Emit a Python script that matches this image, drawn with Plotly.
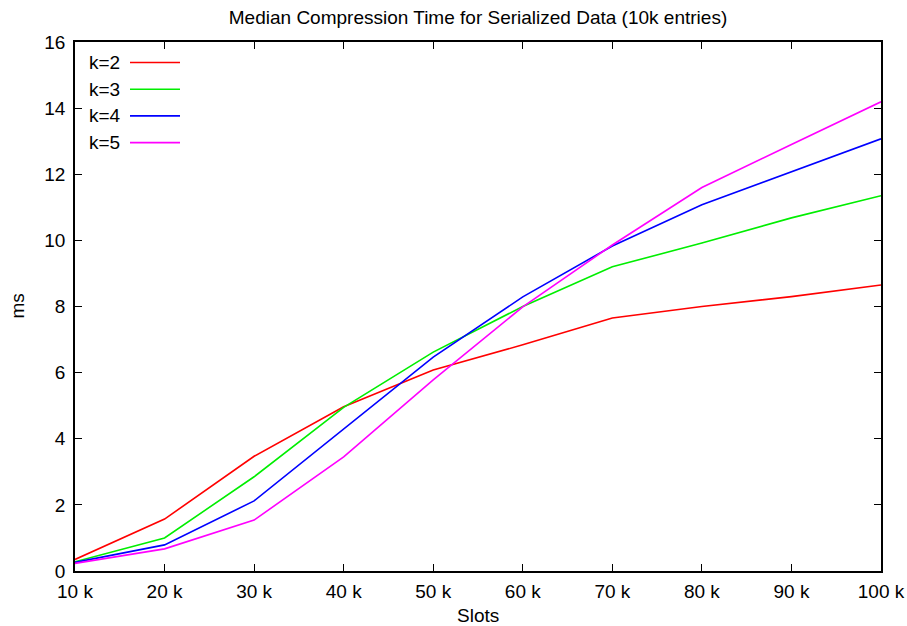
import plotly.graph_objects as go

# Slot counts (thousands) and median compression times (ms) per k
slots = [10, 20, 30, 40, 50, 60, 70, 80, 90, 100]
tick_labels = ["10 k", "20 k", "30 k", "40 k", "50 k", "60 k", "70 k", "80 k", "90 k", "100 k"]

k2 = [0.35, 1.57, 3.47, 4.97, 6.08, 6.84, 7.65, 8.0, 8.3, 8.65]
k3 = [0.28, 1.0, 2.85, 4.95, 6.62, 8.0, 9.2, 9.92, 10.68, 11.35]
k4 = [0.26, 0.79, 2.12, 4.3, 6.47, 8.29, 9.83, 11.08, 12.07, 13.07]
k5 = [0.23, 0.67, 1.54, 3.45, 5.78, 7.99, 9.86, 11.6, 12.9, 14.19]

series_names = ["k=2", "k=3", "k=4", "k=5"]
series_values = [k2, k3, k4, k5]
series_colors = ["#ff0000", "#00ee00", "#0000ff", "#ff00ff"]

FONT = "Liberation Sans, Arial, Helvetica, sans-serif"
FS = 19

# plot area geometry in pixels
L, R, T, B = 75, 26, 42, 55
PW, PH = 907 - L - R, 626 - T - B

fig = go.Figure()
for name, vals, col in zip(series_names, series_values, series_colors):
    fig.add_trace(go.Scatter(
        x=slots, y=vals, name=name, mode="lines",
        line=dict(color=col, width=1.6),
        showlegend=False,
    ))

# gnuplot-style key: label on the left, line sample on the right
shapes = []
annotations = []
for i, (name, col) in enumerate(zip(series_names, series_colors)):
    ypix = 20.5 + 26.7 * i  # pixels below the top of the plot area
    yfrac = 1 - ypix / PH
    annotations.append(dict(
        x=12 / PW, y=yfrac, xref="paper", yref="paper",
        text=name, showarrow=False, xanchor="left", yanchor="middle",
        font=dict(family=FONT, size=FS, color="#000000"),
    ))
    shapes.append(dict(
        type="line", xref="paper", yref="paper",
        x0=55 / PW, x1=105 / PW, y0=yfrac, y1=yfrac,
        line=dict(color=col, width=1.6),
    ))

# axis titles
annotations.append(dict(
    x=0.5, y=-(615 - (T + PH)) / PH, xref="paper", yref="paper",
    text="Slots", showarrow=False, xanchor="center", yanchor="middle",
    font=dict(family=FONT, size=FS, color="#000000"),
))
annotations.append(dict(
    x=(17 - L) / PW, y=0.5, xref="paper", yref="paper",
    text="ms", showarrow=False, xanchor="center", yanchor="middle",
    textangle=-90,
    font=dict(family=FONT, size=FS, color="#000000"),
))

fig.update_layout(
    width=907, height=626,
    margin=dict(l=L, r=R, t=T, b=B),
    plot_bgcolor="white", paper_bgcolor="white",
    font=dict(family=FONT, size=FS, color="#000000"),
    title=dict(
        text="Median Compression Time for Serialized Data (10k entries)",
        x=(L + PW / 2) / 907.0, xanchor="center", y=1 - 17 / 626.0, yanchor="middle",
        font=dict(family=FONT, size=FS, color="#000000"),
    ),
    shapes=shapes,
    annotations=annotations,
)

fig.update_xaxes(
    range=[10, 100], automargin=False,
    tickmode="array", tickvals=slots, ticktext=tick_labels,
    ticks="inside", ticklen=7, tickwidth=1, tickcolor="#000000",
    showline=True, linecolor="#000000", linewidth=1.5, mirror="ticks",
    showgrid=False, zeroline=False,
    tickfont=dict(family=FONT, size=FS),
    ticklabelstandoff=2,
)
fig.update_yaxes(
    range=[0, 16], tickmode="linear", tick0=0, dtick=2, automargin=False,
    ticks="inside", ticklen=7, tickwidth=1, tickcolor="#000000",
    showline=True, linecolor="#000000", linewidth=1.5, mirror="ticks",
    showgrid=False, zeroline=False,
    tickfont=dict(family=FONT, size=FS),
    ticklabelstandoff=4,
)

fig.write_html("out.html")
